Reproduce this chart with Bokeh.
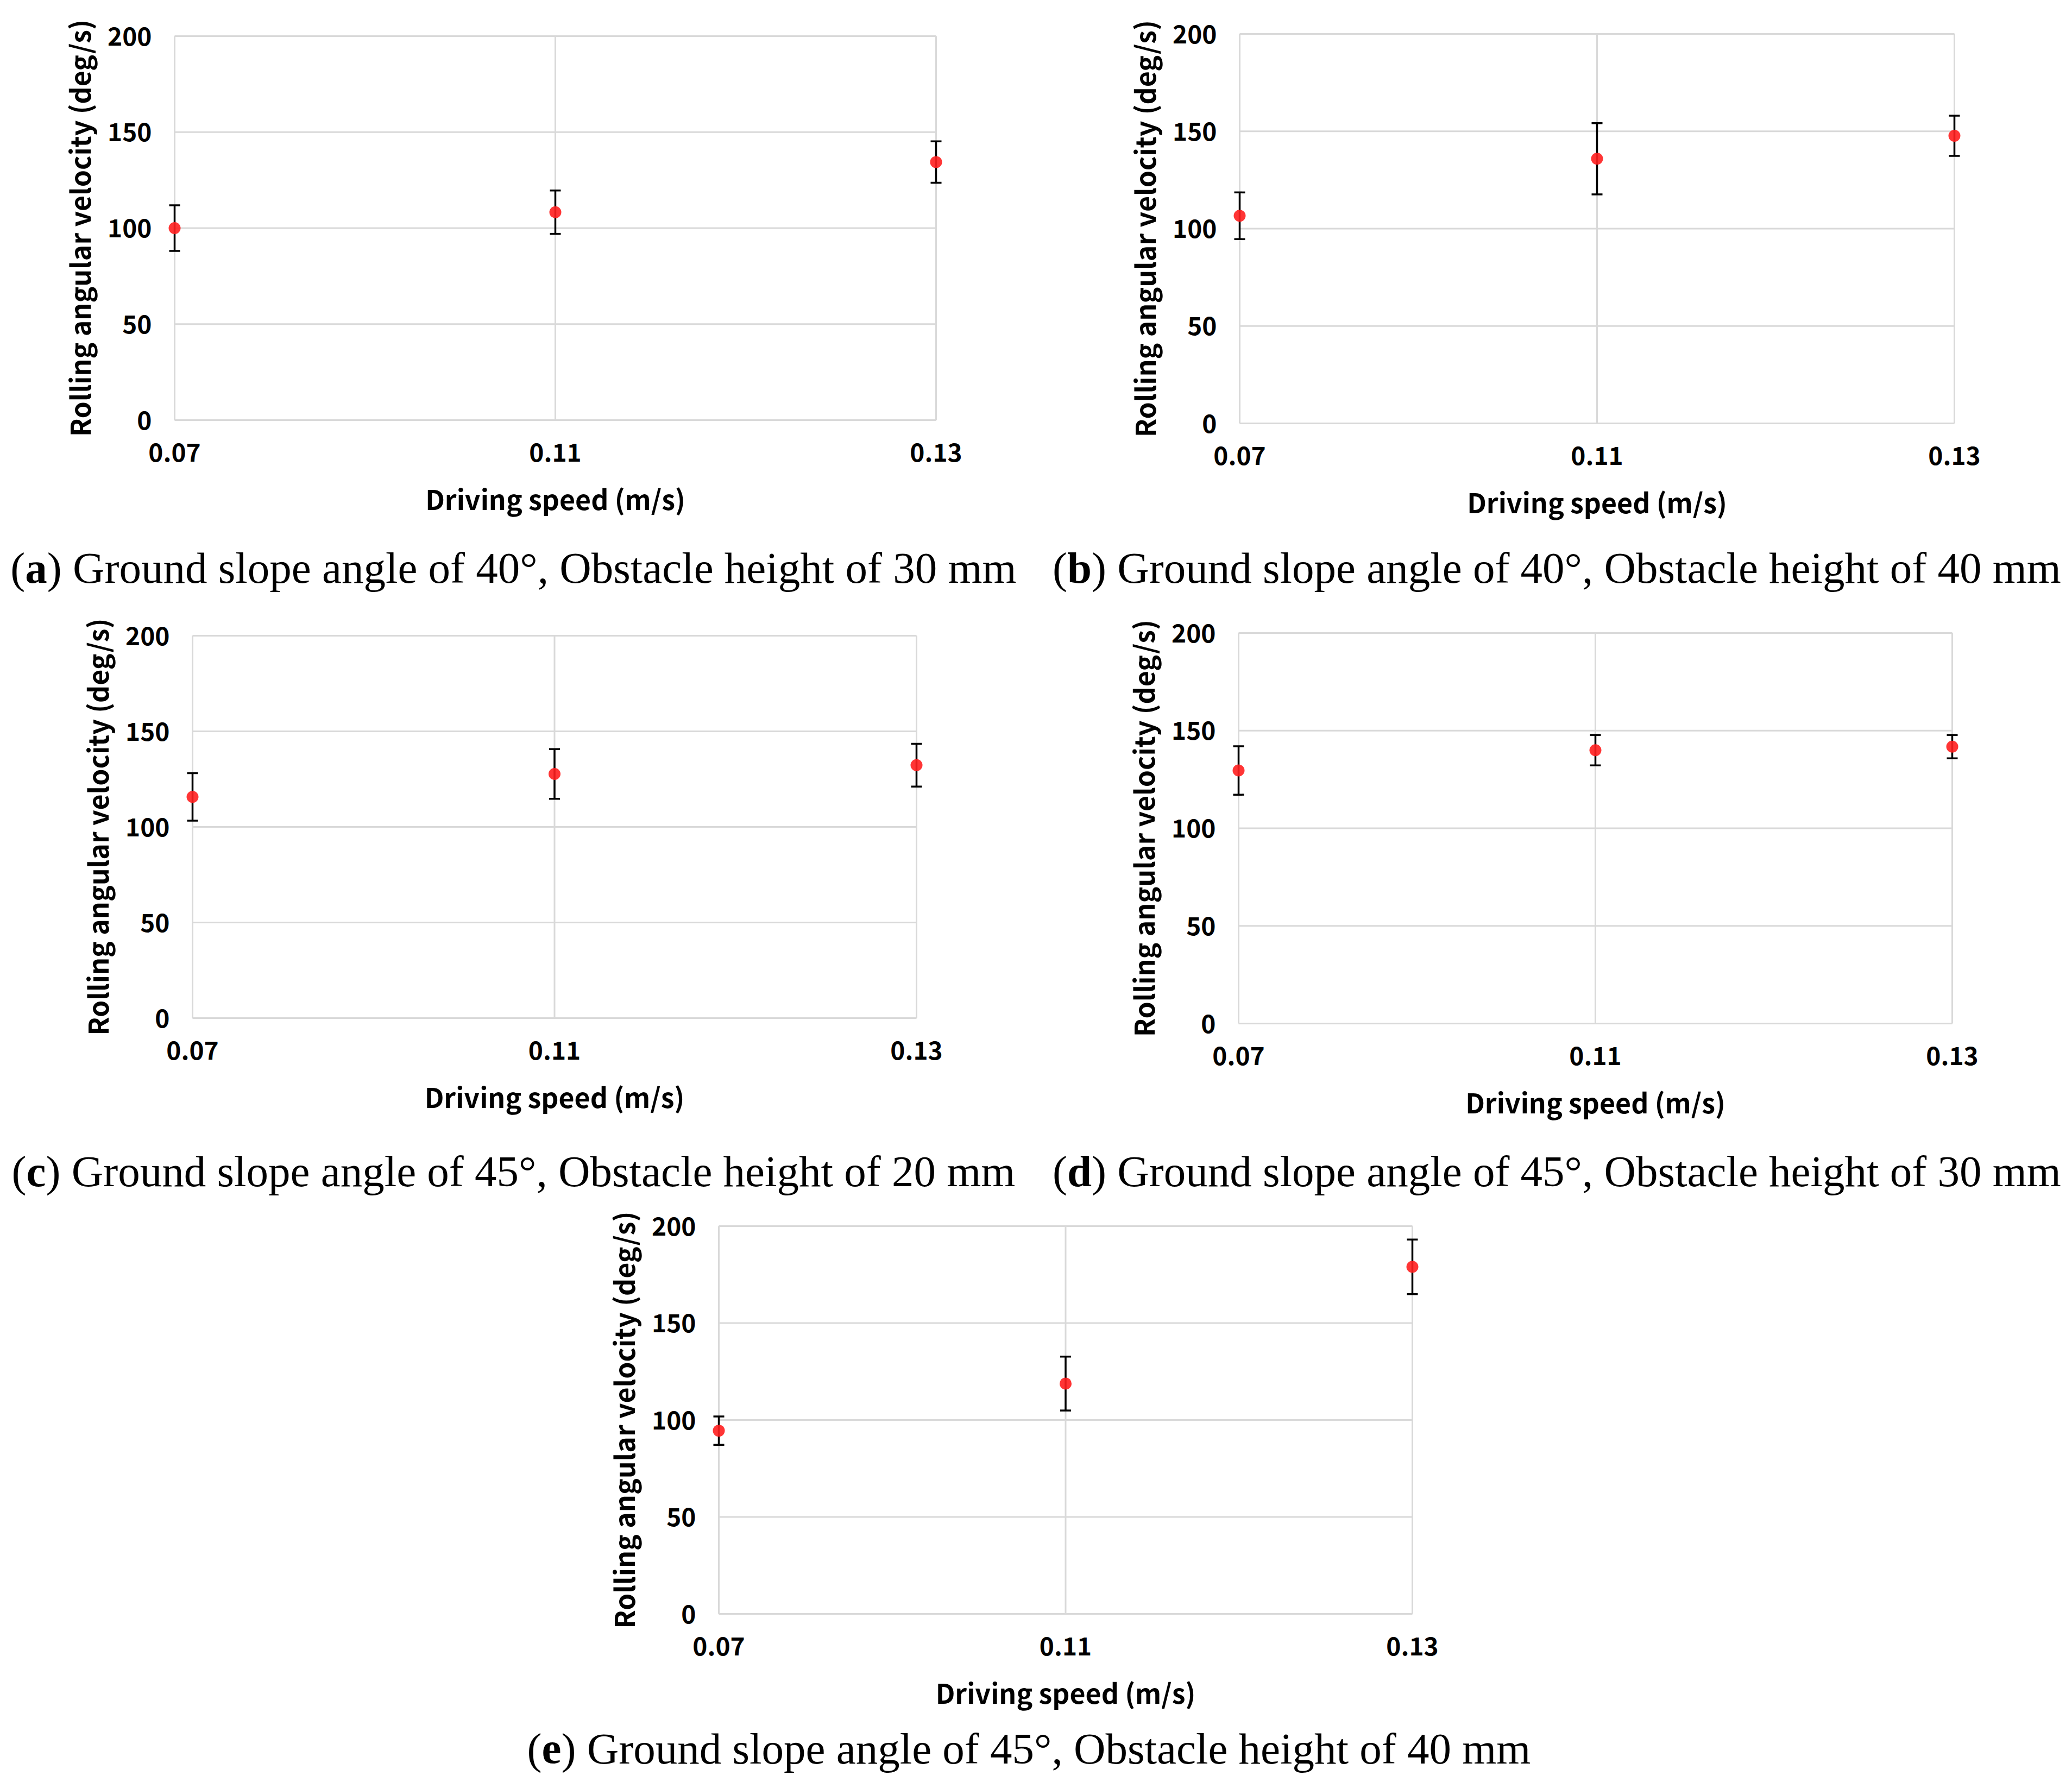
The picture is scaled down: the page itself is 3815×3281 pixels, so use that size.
from bokeh.plotting import figure
from bokeh.models import (ColumnDataSource, Whisker, TeeHead, FixedTicker,
                          Range1d, Spacer)
from bokeh.layouts import column, row
from bokeh.core.properties import value
from bokeh.embed import file_html
from bokeh.resources import INLINE

# ---------------- data ----------------
speeds = ["0.07", "0.11", "0.13"]          # driving speed (m/s), category labels
yticks = [0, 50, 100, 150, 200]            # rolling angular velocity ticks (deg/s)

a_mean = [100.0, 108.3, 134.4]
a_err = [11.9, 11.3, 10.8]
b_mean = [106.6, 135.9, 147.7]
b_err = [12.0, 18.3, 10.3]
c_mean = [115.7, 127.7, 132.3]
c_err = [12.4, 13.0, 11.2]
d_mean = [129.6, 140.0, 141.8]
d_err = [12.4, 7.8, 6.0]
e_mean = [94.5, 118.8, 179.0]
e_err = [7.3, 13.9, 14.1]

letters = ["a", "b", "c", "d", "e"]
caption_texts = [
    ") Ground slope angle of 40°, Obstacle height of 30 mm",
    ") Ground slope angle of 40°, Obstacle height of 40 mm",
    ") Ground slope angle of 45°, Obstacle height of 20 mm",
    ") Ground slope angle of 45°, Obstacle height of 30 mm",
    ") Ground slope angle of 45°, Obstacle height of 40 mm",
]
x_title = "Driving speed (m/s)"
y_title = "Rolling angular velocity (deg/s)"

# ---------------- style ----------------
AX_FONT = "Noto Sans CJK KR"
CAP_FONT = "Liberation Serif"
CAP_SIZE = 81
CAP_SHIFT = 24          # measured offset of the rendered caption baseline
BOLD_W = {"a": 0.500, "b": 0.556, "c": 0.444, "d": 0.556, "e": 0.444}
PAREN_W = 0.333
REST_W = 22.036
PAD = 16
GRID_COLOR = "#d9d9d9"
DOT_COLOR = "#ff1f1f"


def bare(fig):
    fig.outline_line_color = None
    fig.background_fill_color = "white"
    fig.border_fill_color = "white"
    fig.frame_align = False


def panel(mean, err, letter, rest, canvas, grid, cap):
    cx0, cy0, cx1, cy1 = canvas
    gl, gt, gr, gb = grid
    W = cx1 - cx0
    H = cy1 - cy0
    left = round(gl - PAD - cx0)
    right = round(cx1 - (gr + PAD))
    top = round(gt - PAD - cy0)
    bottom = round(cy1 - (gb + PAD))
    fw = W - left - right
    fh = H - top - bottom
    xs = list(range(len(speeds)))
    xspan = xs[-1] - xs[0]
    yspan = yticks[-1] - yticks[0]
    xpad = PAD * xspan / (fw - 2 * PAD)
    ypad = PAD * yspan / (fh - 2 * PAD)

    p = figure(width=W, height=H, output_backend="svg", toolbar_location=None,
               x_range=Range1d(xs[0] - xpad, xs[-1] + xpad),
               y_range=Range1d(yticks[0] - ypad, yticks[-1] + ypad),
               min_border_left=left, min_border_right=right,
               min_border_top=top, min_border_bottom=bottom)
    bare(p)
    p.xgrid.visible = False
    p.ygrid.visible = False

    # grid box drawn from tick values
    n_y = len(yticks)
    p.segment(x0=[xs[0]] * n_y, y0=yticks, x1=[xs[-1]] * n_y, y1=yticks,
              line_color=GRID_COLOR, line_width=3, level="image")
    p.segment(x0=xs, y0=[yticks[0]] * len(xs), x1=xs, y1=[yticks[-1]] * len(xs),
              line_color=GRID_COLOR, line_width=3, level="image")

    src = ColumnDataSource(dict(
        x=xs, y=mean,
        upper=[m + e for m, e in zip(mean, err)],
        lower=[m - e for m, e in zip(mean, err)],
    ))
    wh = Whisker(base="x", upper="upper", lower="lower", source=src,
                 line_color="black", line_width=3.5, level="underlay",
                 upper_head=TeeHead(size=20, line_width=3.5, line_color="black"),
                 lower_head=TeeHead(size=20, line_width=3.5, line_color="black"))
    p.add_layout(wh)
    p.scatter(x="x", y="y", source=src, size=22, fill_color=DOT_COLOR,
              line_color=None, fill_alpha=0.9)

    for ax in (p.xaxis[0], p.yaxis[0]):
        ax.axis_line_color = None
        ax.major_tick_line_color = None
        ax.minor_tick_line_color = None
        ax.major_label_text_font = AX_FONT
        ax.major_label_text_font_style = "bold"
        ax.major_label_text_font_size = "46px"
        ax.major_label_text_color = "black"
        ax.axis_label_text_font = AX_FONT
        ax.axis_label_text_font_style = "bold"
        ax.axis_label_text_font_size = "50px"
        ax.axis_label_text_color = "black"

    p.xaxis.ticker = FixedTicker(ticks=xs)
    p.xaxis.major_label_overrides = {i: s for i, s in zip(xs, speeds)}
    p.xaxis.major_label_standoff = 20
    p.xaxis.axis_label = x_title
    p.xaxis.axis_label_standoff = 28

    p.yaxis.ticker = FixedTicker(ticks=yticks)
    p.yaxis.major_label_standoff = 20
    p.yaxis.axis_label = y_title
    p.yaxis.axis_label_standoff = 14

    # caption strip below the chart, bold panel letter
    ccx, cbase, ch = cap
    cf = figure(width=W, height=ch, output_backend="svg", toolbar_location=None,
                title=None, x_range=Range1d(0, W), y_range=Range1d(0, ch),
                min_border=0, x_axis_location=None, y_axis_location=None)
    bare(cf)
    cf.grid.visible = False
    total = (PAREN_W + BOLD_W[letter] + REST_W) * CAP_SIZE
    x0 = ccx - total / 2
    yb = (cy1 + ch) - (cbase - CAP_SHIFT)
    common = dict(text_font=value(CAP_FONT), text_font_size=value(f"{CAP_SIZE}px"),
                  text_baseline=value("alphabetic"), text_align=value("left"),
                  text_color="black")
    cf.text(x=[x0], y=[yb], text=["("], text_font_style=value("normal"), **common)
    cf.text(x=[x0 + PAREN_W * CAP_SIZE], y=[yb], text=[letter],
            text_font_style=value("bold"), **common)
    cf.text(x=[x0 + (PAREN_W + BOLD_W[letter]) * CAP_SIZE], y=[yb], text=[rest],
            text_font_style=value("normal"), **common)
    return column(p, cf, spacing=0)


pa = panel(a_mean, a_err, letters[0], caption_texts[0],
           (0, 0, 1900, 980), (320.7, 65.7, 1723, 773), (945, 1069, 140))
pb = panel(b_mean, b_err, letters[1], caption_texts[1],
           (1900, 0, 3812, 980), (2282, 61.6, 3598, 778.7), (966, 1069, 140))
pc = panel(c_mean, c_err, letters[2], caption_texts[2],
           (0, 1120, 1900, 2090), (354.5, 1170, 1687, 1874), (945, 2180, 120))
pd_ = panel(d_mean, d_err, letters[3], caption_texts[3],
            (1900, 1120, 3812, 2090), (2280, 1165, 3594, 1884), (966, 2180, 120))
pe = panel(e_mean, e_err, letters[4], caption_texts[4],
           (900, 2210, 2900, 3160), (1323, 2257, 2600, 2971), (994, 3243, 112))

layout = column(row(pa, pb, spacing=0), row(pc, pd_, spacing=0),
                row(Spacer(width=900, height=1062), pe, spacing=0), spacing=0)
open("out.html", "w").write(file_html(layout, INLINE, title="Rolling angular velocity"))
